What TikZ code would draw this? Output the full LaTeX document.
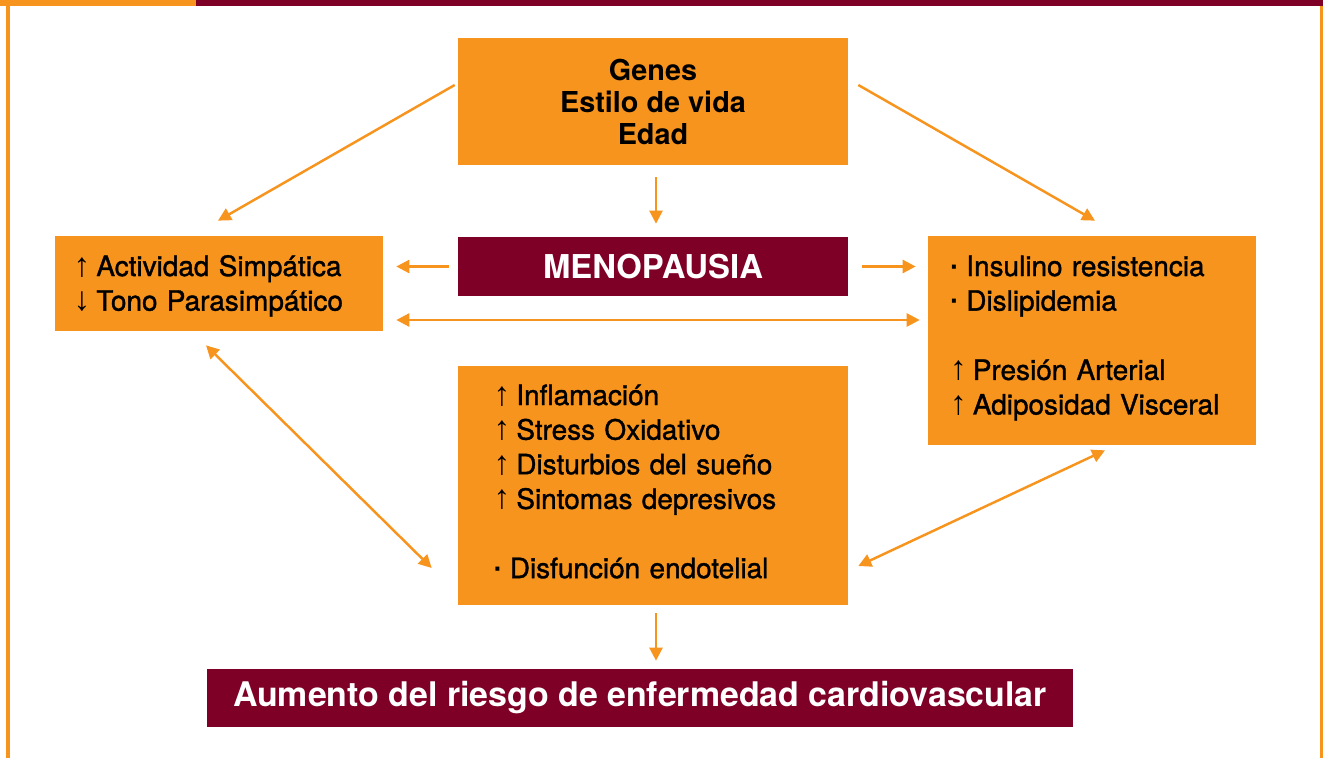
\documentclass[tikz,border=0pt]{standalone}
\usepackage{fontspec}
\setmainfont{TeX Gyre Heros}
\newfontfamily\medfont[FakeBold=1.3]{TeX Gyre Heros}
\newfontfamily\arrfont{Liberation Sans}
\usepackage{tikz}
\usetikzlibrary{positioning, calc, arrows.meta}
\definecolor{naranja}{HTML}{F7941D}
\definecolor{granate}{HTML}{7F0026}
\newcommand{\sube}{{\arrfont\fontsize{19}{19}\selectfont ↑}\hspace{0.22em}}
\newcommand{\baja}{{\arrfont\fontsize{19}{19}\selectfont ↓}\hspace{0.22em}}
\newcommand{\punto}{{\arrfont\bfseries ·}\hspace{0.25em}}

\begin{document}
\begin{tikzpicture}[x=0.02cm, y=-0.02cm,
    orangebox/.style={rectangle, fill=naranja, inner sep=0pt, text height=0cm,
      font=\medfont\fontsize{15.9}{19.7}\selectfont},
    redbox/.style={rectangle, fill=granate, inner sep=0pt, text=white,
      font=\bfseries\fontsize{18.7}{21}\selectfont},
    arr/.style={draw=naranja, line width=1.4pt,
      -{Triangle[length=0.26cm, width=0.26cm]}},
    dbl/.style={arr, {Triangle[length=0.26cm, width=0.26cm]}-{Triangle[length=0.26cm, width=0.26cm]}}, ]
    \useasboundingbox (0,0) rectangle (1326,758);
    % Frame
    \fill[naranja] (0,0) rectangle (196,6);
    \fill[granate] (196,0) rectangle (1323,6);
    \fill[naranja] (6,6) rectangle (10,758);
    \fill[naranja] (1320,6) rectangle (1323,758);
    % Nodes
    \node[rectangle, fill=naranja, inner sep=0pt, minimum width=7.8cm, minimum height=2.54cm,
      align=center, font=\bfseries\fontsize{16.4}{18.2}\selectfont] (factores) at (653,101.5)
      {Genes\\Estilo de vida\\Edad};
    \node[redbox, minimum width=7.8cm, minimum height=1.18cm] (meno) at (653,266.5)
      {MENOPAUSIA};
    \node[orangebox, minimum width=6.56cm, minimum height=1.9cm, text width=5.82cm,
      text depth=0.3cm, align=left] (autonomo) at (219,283.5)
      {\sube Actividad Simpática\\\baja Tono Parasimpático};
    \node[orangebox, minimum width=6.56cm, minimum height=4.18cm, text width=5.68cm,
      text depth=2.58cm, align=left] (metabolico) at (1092,340.5)
      {\punto Insulino resistencia\\\punto Dislipidemia\\[19.7pt]\sube Presión Arterial\\\sube Adiposidad Visceral};
    \node[orangebox, minimum width=7.8cm, minimum height=4.78cm, text width=6.38cm,
      text depth=3.22cm, align=left] (vascular) at (653,485.5)
      {\sube Inflamación\\\sube Stress Oxidativo\\\sube Disturbios del sueño\\\sube Sintomas depresivos\\[19.7pt]\punto Disfunción endotelial};
    \node[redbox, minimum width=17.32cm, minimum height=1.16cm,
      font=\bfseries\fontsize{19.3}{21}\selectfont] (riesgo) at (640,698)
      {Aumento del riesgo de enfermedad cardiovascular};
    % Lines
    \draw[arr] ([shift={(-3,-16.5)}]factores.west) -- ([shift={(-1,-15)}]autonomo.north);
    \draw[arr] ([shift={(10,-16.5)}]factores.east) -- ([shift={(3,-15)}]metabolico.north);
    \draw[arr] ([shift={(3,12)}]factores.south) -- ([shift={(3,-13)}]meno.north);
    \draw[arr, shorten <=0.18cm, shorten >=0.26cm] (meno.west) -- (meno.west -| autonomo.east);
    \draw[arr, shorten <=0.28cm, shorten >=0.24cm] (meno.east) -- (meno.east -| metabolico.west);
    \draw[dbl, shorten <=0.26cm, shorten >=0.16cm] ([yshift=-0.73cm]autonomo.east)
      -- ([yshift=-0.73cm]autonomo.east -| metabolico.west);
    \draw[dbl] ([shift={(-13,14)}]autonomo.south) -- ([shift={(-26,82.5)}]vascular.west);
    \draw[dbl] ([shift={(13,5)}]metabolico.south) -- ([shift={(10,80.5)}]vascular.east);
    \draw[arr, shorten <=0.16cm, shorten >=0.16cm] ([xshift=0.06cm]vascular.south)
      -- ([xshift=0.06cm]vascular.south |- riesgo.north);
  \end{tikzpicture}
\end{document}
